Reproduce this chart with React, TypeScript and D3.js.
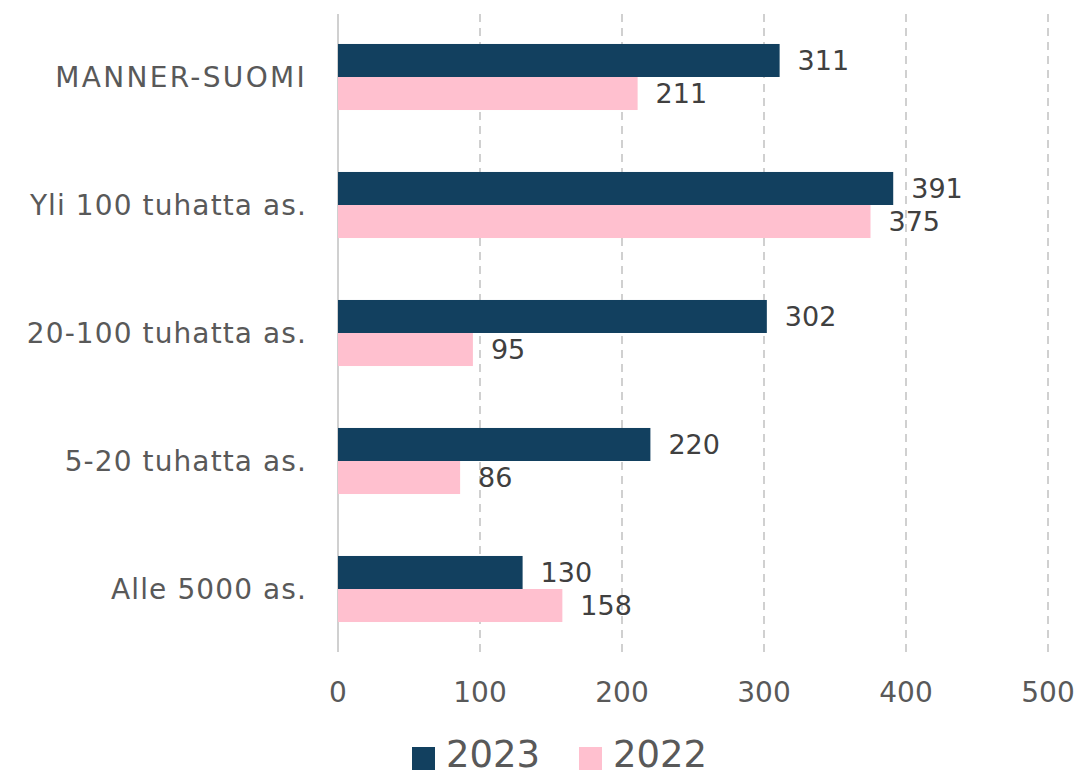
import React, { useRef, useEffect } from "react";
import * as d3 from "d3";

const categories = [
  "MANNER-SUOMI",
  "Yli 100 tuhatta as.",
  "20-100 tuhatta as.",
  "5-20 tuhatta as.",
  "Alle 5000 as.",
];
const series2023 = [311, 391, 302, 220, 130];
const series2022 = [211, 375, 95, 86, 158];
const seriesNames = ["2023", "2022"];
const xTicks = [0, 100, 200, 300, 400, 500];

const colors = ["#12405f", "#ffc0cf"];
const font = "'DejaVu Sans', sans-serif";

function App() {
  const svgRef = useRef<SVGSVGElement>(null);

  useEffect(() => {
    const w = 1084;
    const h = 776;
    const svg = d3.select(svgRef.current).attr("width", w).attr("height", h);
    svg.selectAll("*").remove();

    // scales
    const x = d3.scaleLinear().domain([0, 500]).range([338, 1048]);
    const y = d3
      .scaleBand<string>()
      .domain(categories)
      .range([13, 653])
      .paddingInner(0.484)
      .paddingOuter(0.242);
    const sub = d3.scaleBand<string>().domain(seriesNames).range([0, y.bandwidth()]);

    // grid
    svg
      .append("g")
      .selectAll("line")
      .data(xTicks)
      .join("line")
      .attr("x1", (d) => x(d))
      .attr("x2", (d) => x(d))
      .attr("y1", 14)
      .attr("y2", 652)
      .attr("stroke", "#d0d0d0")
      .attr("stroke-width", 2)
      .attr("stroke-dasharray", (d) => (d === 0 ? null : "8,6"));

    // tick labels
    svg
      .append("g")
      .selectAll("text")
      .data(xTicks)
      .join("text")
      .attr("x", (d) => x(d))
      .attr("y", 702)
      .attr("text-anchor", "middle")
      .attr("font-family", font)
      .attr("font-size", 28)
      .attr("fill", "#595959")
      .text((d) => d);

    // category labels
    svg
      .append("g")
      .selectAll("text")
      .data(categories)
      .join("text")
      .attr("x", 307)
      .attr("y", (d) => (y(d) as number) + y.bandwidth() / 2)
      .attr("dy", "0.35em")
      .attr("text-anchor", "end")
      .attr("font-family", font)
      .attr("font-size", 28)
      .attr("letter-spacing", (d) => (d === d.toUpperCase() ? 2.3 : 1.1))
      .attr("fill", "#595959")
      .text((d) => d);

    const allSeries = [series2023, series2022];
    allSeries.forEach((vals, si) => {
      const g = svg.append("g");
      g.selectAll("rect")
        .data(vals)
        .join("rect")
        .attr("x", x(0))
        .attr("y", (v, i) => (y(categories[i]) as number) + (sub(seriesNames[si]) as number))
        .attr("width", (v) => x(v) - x(0))
        .attr("height", sub.bandwidth())
        .attr("fill", colors[si]);
      g.selectAll("text")
        .data(vals)
        .join("text")
        .attr("x", (v) => x(v) + 18)
        .attr(
          "y",
          (v, i) => (y(categories[i]) as number) + (sub(seriesNames[si]) as number) + sub.bandwidth() / 2
        )
        .attr("dy", "0.36em")
        .attr("font-family", font)
        .attr("font-size", 27)
        .attr("fill", "#404040")
        .text((v) => v);
    });

    // legend
    const legendX = [412, 579];
    const legend = svg
      .append("g")
      .selectAll("g")
      .data(seriesNames)
      .join("g")
      .attr("transform", (d, i) => `translate(${legendX[i]},0)`);
    legend
      .append("rect")
      .attr("x", 0)
      .attr("y", 747)
      .attr("width", 23)
      .attr("height", 23)
      .attr("fill", (d, i) => colors[i]);
    legend
      .append("text")
      .attr("x", 34)
      .attr("y", 767)
      .attr("font-family", font)
      .attr("font-size", 37)
      .attr("fill", "#595959")
      .text((d) => d);
  }, []);

  return (
    <div style={{ position: "absolute", left: 0, top: 0 }}>
      <svg ref={svgRef}></svg>
    </div>
  );
}

export default App;
